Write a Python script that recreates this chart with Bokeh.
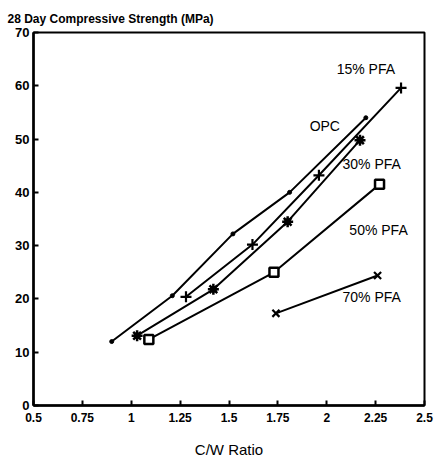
from bokeh.plotting import figure
from bokeh.models import Range1d, FixedTicker, Label
from bokeh.embed import file_html
from bokeh.resources import INLINE

# Data
opc_x = [0.90, 1.21, 1.52, 1.81, 2.20]
opc_y = [12.0, 20.6, 32.2, 40.0, 54.0]

pfa15_x = [1.28, 1.62, 1.96, 2.38]
pfa15_y = [20.4, 30.2, 43.2, 59.6]

pfa30_x = [1.03, 1.42, 1.80, 2.17]
pfa30_y = [13.1, 21.8, 34.5, 49.8]

pfa50_x = [1.09, 1.73, 2.27]
pfa50_y = [12.4, 25.0, 41.5]

pfa70_x = [1.74, 2.26]
pfa70_y = [17.3, 24.4]

x_ticks = [0.5, 0.75, 1.0, 1.25, 1.5, 1.75, 2.0, 2.25, 2.5]
x_tick_labels = ["0.5", "0.75", "1", "1.25", "1.5", "1.75", "2", "2.25", "2.5"]
y_ticks = [0, 10, 20, 30, 40, 50, 60, 70]

series_names = ["15% PFA", "OPC", "30% PFA", "50% PFA", "70% PFA"]
label_x = [2.20, 1.99, 2.23, 2.265, 2.23]
label_y = [63.1, 52.5, 45.4, 33.0, 20.3]

title_text = "28 Day Compressive Strength (MPa)"
x_title = "C/W Ratio"

FONT = "Liberation Sans"

p = figure(width=438, height=466, output_backend="svg", toolbar_location=None,
           x_range=Range1d(0.5, 2.5), y_range=Range1d(0, 70),
           min_border_left=33, min_border_right=14, min_border_top=32, min_border_bottom=61)
p.grid.visible = False
p.outline_line_color = "black"
p.outline_line_width = 2
p.background_fill_color = "white"
p.border_fill_color = "white"

p.title.text = title_text
p.title.align = "left"
p.title.offset = -26
p.title.text_font = FONT
p.title.text_font_size = "12px"
p.title.text_font_style = "bold"
p.title.text_color = "black"
p.title.standoff = 13

for ax in (p.xaxis[0], p.yaxis[0]):
    ax.axis_line_width = 2.5
    ax.axis_line_color = "black"
    ax.major_tick_in = 5
    ax.major_tick_out = 0
    ax.major_tick_line_width = 2
    ax.minor_tick_line_color = None
    ax.major_label_text_font = FONT
    ax.major_label_text_font_style = "bold"
    ax.major_label_text_color = "black"

p.xaxis.ticker = FixedTicker(ticks=x_ticks)
p.xaxis.major_label_overrides = {t: l for t, l in zip(x_ticks, x_tick_labels)}
p.xaxis.major_label_text_font_size = "12px"
p.xaxis.major_label_standoff = 7
p.xaxis.axis_label = x_title
p.xaxis.axis_label_text_font = FONT
p.xaxis.axis_label_text_font_style = "normal"
p.xaxis.axis_label_text_font_size = "15px"
p.xaxis.axis_label_text_color = "black"
p.xaxis.axis_label_standoff = 16

p.yaxis.ticker = FixedTicker(ticks=y_ticks)
p.yaxis.major_label_text_font_size = "13px"
p.yaxis.major_label_standoff = 4

lw = 2
p.line(opc_x, opc_y, line_color="black", line_width=lw)
p.scatter(opc_x, opc_y, marker="circle", size=4, color="black")

p.line(pfa15_x, pfa15_y, line_color="black", line_width=lw)
p.scatter(pfa15_x, pfa15_y, marker="cross", size=11, line_color="black", line_width=2.2)

p.line(pfa30_x, pfa30_y, line_color="black", line_width=lw)
p.scatter(pfa30_x, pfa30_y, marker="asterisk", size=11, line_color="black", line_width=2.5)
p.scatter(pfa30_x, pfa30_y, marker="circle", size=6, color="black")

p.line(pfa50_x, pfa50_y, line_color="black", line_width=lw)
p.scatter(pfa50_x, pfa50_y, marker="square", size=9, line_color="black",
          fill_color="white", line_width=2.5)

p.line(pfa70_x, pfa70_y, line_color="black", line_width=lw)
p.scatter(pfa70_x, pfa70_y, marker="x", size=10, line_color="black", line_width=2.2)

for name, lx, ly in zip(series_names, label_x, label_y):
    p.add_layout(Label(x=lx, y=ly, text=name, text_align="center", text_baseline="middle",
                       text_font=FONT, text_font_size="14px", text_color="black"))

open("out.html", "w").write(file_html(p, INLINE))
